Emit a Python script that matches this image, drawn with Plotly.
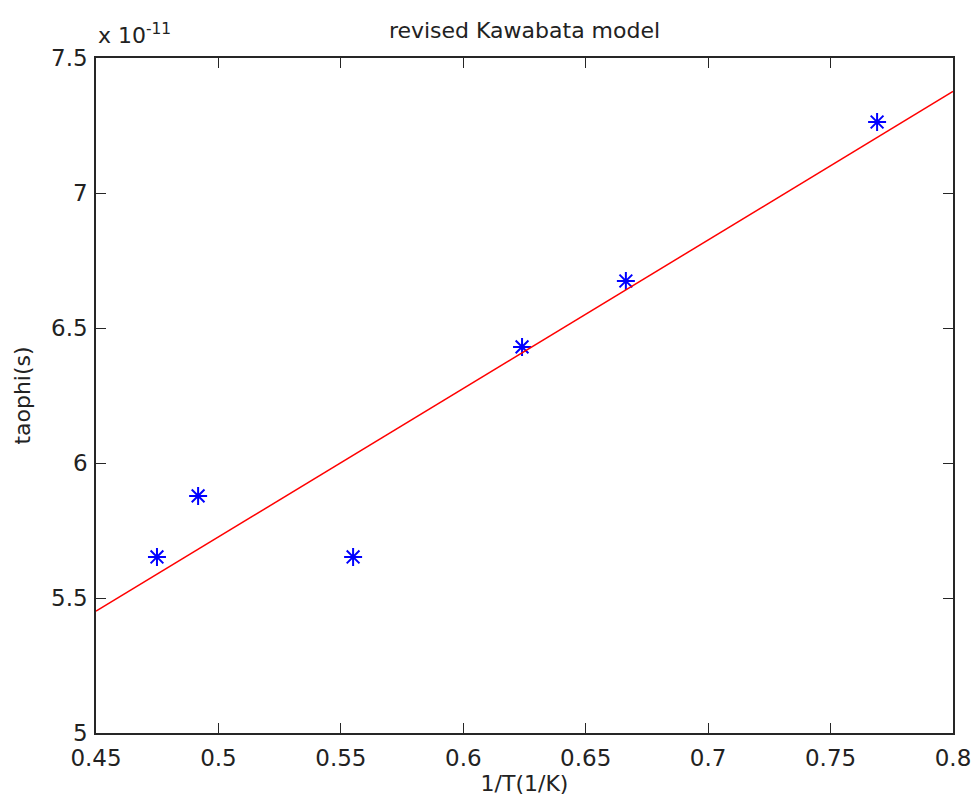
import plotly.graph_objects as go

# Measured relaxation times vs inverse temperature
inv_T = [0.4749, 0.4917, 0.5550, 0.6240, 0.6664, 0.7690]
taophi = [5.652e-11, 5.878e-11, 5.652e-11, 6.430e-11, 6.674e-11, 7.263e-11]

# Linear fit line across the axis span
fit_x = [0.45, 0.80]
fit_y = [5.451e-11, 7.376e-11]

x_ticks = [0.45, 0.5, 0.55, 0.6, 0.65, 0.7, 0.75, 0.8]
x_tick_text = ["0.45", "0.5", "0.55", "0.6", "0.65", "0.7", "0.75", "0.8"]
y_ticks = [5e-11, 5.5e-11, 6e-11, 6.5e-11, 7e-11, 7.5e-11]
y_tick_text = ["5", "5.5", "6", "6.5", "7", "7.5"]

FONT = "DejaVu Sans"
AXIS_COLOR = "#262626"

fig = go.Figure()
fig.add_trace(go.Scatter(
    x=inv_T, y=taophi, mode="markers",
    marker=dict(symbol="asterisk-open", size=15, color="#0000ff",
                line=dict(color="#0000ff", width=2)),
    showlegend=False,
))
fig.add_trace(go.Scatter(
    x=fit_x, y=fit_y, mode="lines",
    line=dict(color="#ff0000", width=1.5),
    showlegend=False,
))

axis_common = dict(
    showgrid=False, zeroline=False, automargin=False,
    showline=True, linecolor=AXIS_COLOR, linewidth=1.5, mirror="ticks",
    ticks="inside", ticklen=10, tickwidth=1.2, tickcolor=AXIS_COLOR,
    tickfont=dict(family=FONT, size=23, color="#222222"),
)

fig.update_layout(
    width=976, height=810,
    margin=dict(l=96, r=23, t=58, b=77),
    paper_bgcolor="white", plot_bgcolor="white",
    title=dict(text="revised Kawabata model", x=0.5, xref="paper",
               xanchor="center", y=1 - 30 / 810, yanchor="middle",
               font=dict(family=FONT, size=22, color="#222222")),
    xaxis=dict(range=[0.45, 0.8], tickvals=x_ticks, ticktext=x_tick_text,
               ticklabelstandoff=4,
               title=dict(text="1/T(1/K)", standoff=4,
                          font=dict(family=FONT, size=22, color="#222222")),
               **axis_common),
    yaxis=dict(range=[5e-11, 7.5e-11], tickvals=y_ticks, ticktext=y_tick_text,
               ticklabelstandoff=2,
               title=dict(text="taophi(s)", standoff=14,
                          font=dict(family=FONT, size=22, color="#222222")),
               **axis_common),
    annotations=[dict(
        text="x 10<sup>-11</sup>", xref="paper", yref="paper",
        x=0, y=1, xanchor="left", yanchor="bottom", yshift=8, showarrow=False,
        font=dict(family=FONT, size=22, color="#222222"),
    )],
)

fig.write_html("out.html")
